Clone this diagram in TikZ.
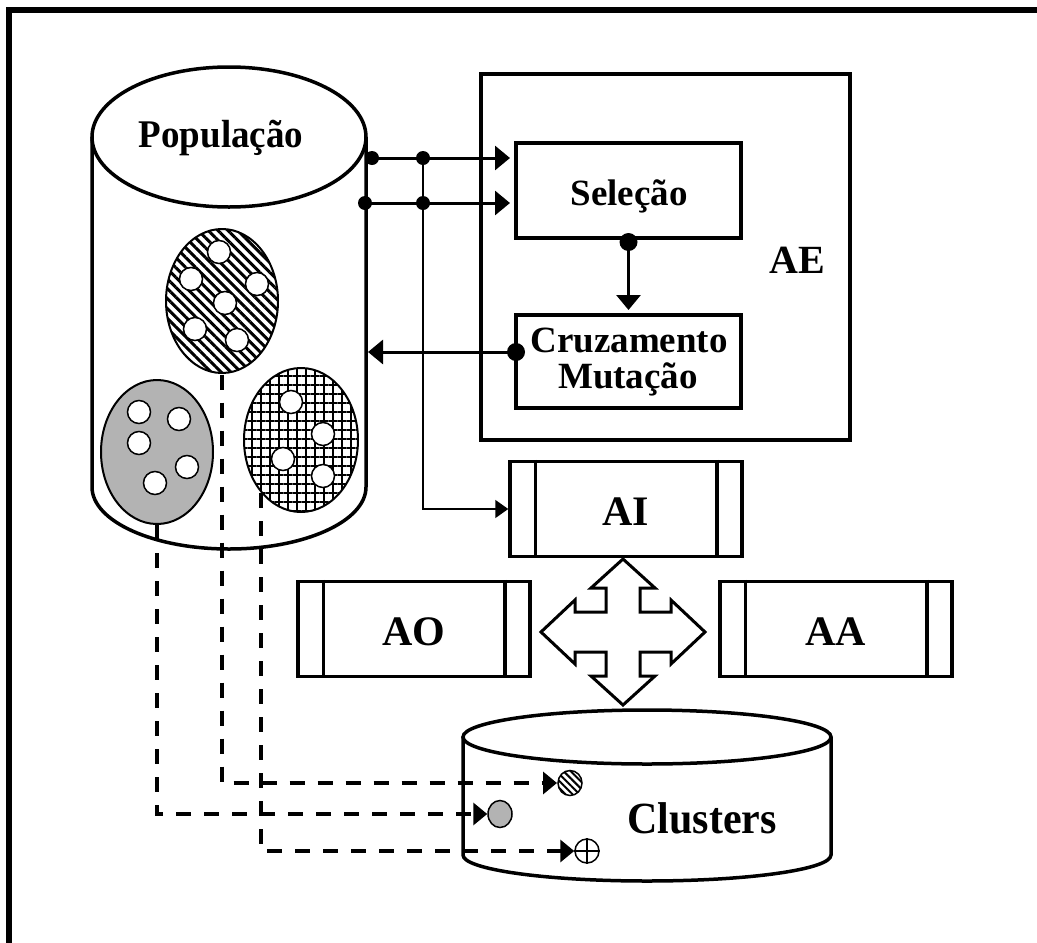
\documentclass[tikz,border=0pt]{standalone}
\usepackage{fontspec}
\setmainfont{Liberation Serif}
\usetikzlibrary{arrows.meta,patterns.meta,shapes.geometric,calc}
\definecolor{cgray}{RGB}{179,179,179}
\begin{document}
\begin{tikzpicture}[x=1pt,y=-1pt,
  lab/.style={inner sep=0pt, anchor=base, font=\fontsize{37}{37}\selectfont\bfseries},
  labL/.style={inner sep=0pt, anchor=base, font=\fontsize{42}{42}\selectfont\bfseries},
  pbox/.style={draw, line width=4pt, inner sep=0pt, minimum width=225pt, minimum height=94pt},
  abox/.style={draw, line width=3.5pt, inner sep=0pt, minimum width=232pt, minimum height=95pt},
  arr/.style={line width=3pt, -{Triangle[length=15pt,width=24pt]}},
  thinarr/.style={line width=1.6pt, -{Triangle[length=13pt,width=18pt]}},
  dasharr/.style={line width=4pt, dash pattern=on 15pt off 13pt, -{Triangle[length=14pt,width=22pt]}},
  wc/.style={draw, fill=white, line width=1.5pt},
  clus/.style={draw, ellipse, line width=2pt, inner sep=0pt, minimum width=112pt, minimum height=144pt},
  cyl/.style={line width=3.5pt, fill=white}
]
\useasboundingbox (0,0) rectangle (1037,943);
\clip (0,0) rectangle (1037,943);

% outer frame
\draw[line width=6pt] (9,980) -- (9,10) -- (1080,10);

% Populacao cylinder
\draw[cyl] (92,137) -- (92,487) arc[start angle=180,end angle=360,x radius=137pt,y radius=62pt] -- (366,137);
\draw[cyl] (229,137) ellipse[x radius=137pt,y radius=70pt];
\node[lab] (popt) at (221,147) {\scalebox{1}[1.06]{População}};

% clusters inside population
\node[clus, pattern={Lines[angle=-45,distance=7pt,line width=3pt]}] (he) at (222,301) {};
\node[clus, fill=cgray] (gr) at (157,452) {};
\node[clus, minimum width=114pt, pattern={Hatch[angle=0,distance=9pt,line width=2.5pt]}] (ge) at (301,440) {};
\foreach \p in {(219,252),(191,279),(257,284),(225,303),(195,329),(237,340),
                (139,412),(179,419),(139,443),(187,467),(155,483),
                (291,402),(323,434),(283,459),(323,476)}
  \draw[wc] \p circle[radius=11.5pt];

% AE box
\node[draw, line width=4pt, minimum width=369pt, minimum height=366pt, inner sep=0pt] (ae) at (665.5,257) {};
\node[font=\fontsize{40}{40}\selectfont\bfseries, inner sep=0pt, anchor=base] (aet) at (797,273) {AE};
\node[pbox, minimum height=95pt] (sel) at (628.5,190.5) {};
\node[lab] (selt) at (629,205) {Seleção};
\node[pbox, minimum height=93pt] (cru) at (628.5,361.5) {};
\node[lab] (crut1) at (629,352) {Cruzamento};
\node[lab] (crut2) at (628,388) {Mutação};

% connectors population -> selecao
\coordinate (p1) at (372,158);
\coordinate (p2) at (423,158);
\coordinate (p3) at (365,203);
\coordinate (p4) at (423,203);
\draw[arr, shorten >=4pt] (p1) -- (p1 -| sel.west);
\draw[arr, shorten >=4pt] (p3) -- (p3 -| sel.west);
\foreach \q in {p1,p2,p3,p4} \fill (\q) circle[radius=7pt];

% selecao -> cruzamento
\draw[arr, shorten >=3pt] (sel.south) -- (cru.north);
\fill (sel.south) ++(0,2) circle[radius=9pt];
% cruzamento -> population
\coordinate (cylR) at (368,352);
\coordinate (cruL) at (cylR -| cru.west);
\draw[arr] (cruL) -- (cylR);
\fill (cruL) ++(2,0) circle[radius=9pt];

% AI / AO / AA
\node[abox] (ai) at (626,509) {};
\node[abox] (ao) at (414,629) {};
\node[abox] (aa) at (836,629) {};
\foreach \b in {ai,ao,aa}{
  \draw[line width=3.5pt] ([xshift=27pt]\b.north west) -- ([xshift=27pt]\b.south west);
  \draw[line width=3.5pt] ([xshift=-27pt]\b.north east) -- ([xshift=-27pt]\b.south east);
}
\node[labL] (ait) at (626,525) {AI};
\node[labL] (aot) at (414,645) {AO};
\node[labL] (aat) at (836,645) {AA};

% thin line to AI
\draw[thinarr] (p2) |- (ai.west);

% four-way arrow
\draw[line width=3pt, fill=white, line join=miter, shift={(623,632)}]
  (0,-73) -- (32,-44) -- (17,-44) -- (17,-20) -- (48,-20) -- (48,-32) -- (82,0)
  -- (48,32) -- (48,20) -- (17,20) -- (17,44) -- (32,44) -- (0,73)
  -- (-32,44) -- (-17,44) -- (-17,20) -- (-48,20) -- (-48,32) -- (-82,0)
  -- (-48,-32) -- (-48,-20) -- (-17,-20) -- (-17,-44) -- (-32,-44) -- cycle;

% Clusters cylinder
\draw[cyl] (463,737) -- (463,855) arc[start angle=180,end angle=360,x radius=184pt,y radius=26pt] -- (831,737);
\draw[cyl] (647,737) ellipse[x radius=184pt,y radius=27pt];
\node[labL] (clt) at (702,833) {\scalebox{1}[1.06]{Clusters}};

% small clusters
\node[draw, ellipse, line width=1.5pt, inner sep=0pt, minimum width=24pt, minimum height=25pt,
      pattern={Lines[angle=-45,distance=5pt,line width=2pt]}] (c1) at (570,783) {};
\node[draw, ellipse, line width=1.5pt, inner sep=0pt, minimum width=24pt, minimum height=27pt, fill=cgray] (c2) at (500,814) {};
\node[draw, circle, line width=1.5pt, inner sep=0pt, minimum size=24pt, fill=white] (c3) at (587,851) {};
\draw[line width=1.5pt] (c3.north) -- (c3.south) (c3.west) -- (c3.east);

% dashed connectors
\draw[dasharr] (he.south) |- (c1.west);
\draw[dasharr] (gr.south) |- (c2.west);
\draw[dasharr] (ge.233) |- (c3.west);
\end{tikzpicture}
\end{document}
